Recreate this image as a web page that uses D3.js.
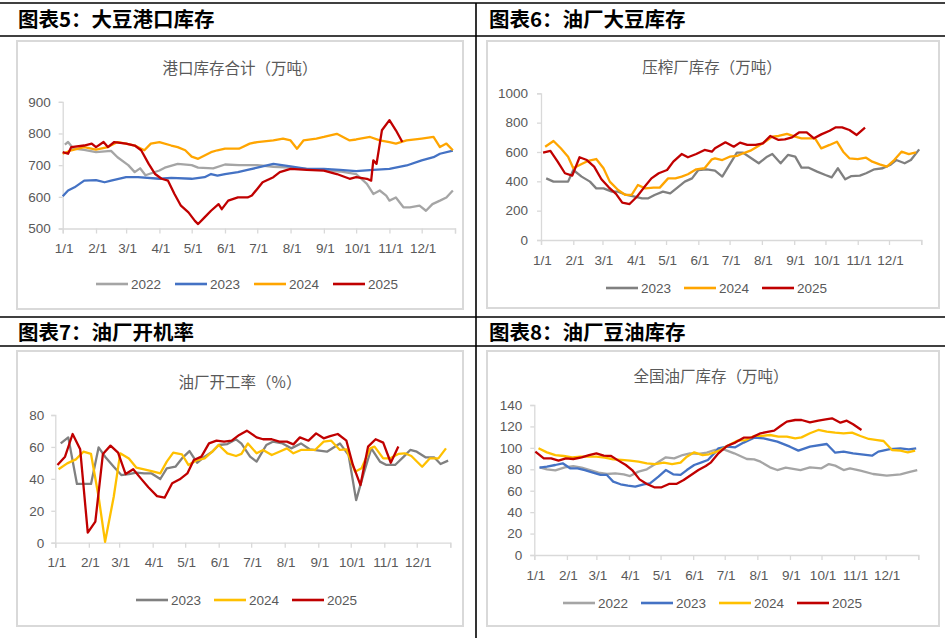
<!DOCTYPE html>
<html><head><meta charset="utf-8">
<script src="https://cdn.jsdelivr.net/npm/d3@7"></script>
<style>body{margin:0;background:#fff} svg{display:block}</style>
</head><body><svg id="c" width="945" height="638"></svg>
<script>
// ---------- shared tick data ----------
const monthLabels = ["1/1","2/1","3/1","4/1","5/1","6/1","7/1","8/1","9/1","10/1","11/1","12/1"];
const monthStarts = [0,31,59,90,120,151,181,212,243,273,304,334];
const yearEnd = 365;

// ---------- 图表5 大豆港口库存 (day of year, 万吨) ----------
const port2022 = [[2,765],[5,773],[10,752],[20,748],[31,741],[45,745],[51,725],[61,700],[67,678],[72,690],[77,668],[90,683],[95,692],[107,704],[120,700],[126,692],[140,690],[151,702],[164,700],[181,700],[196,695],[212,692],[227,688],[243,685],[258,680],[273,672],[283,641],[289,609],[295,620],[301,604],[304,588],[310,598],[317,567],[323,567],[332,572],[338,556],[344,577],[351,588],[357,598],[363,620]];
const port2023 = [[0,602],[5,620],[11,630],[20,651],[31,653],[39,646],[45,651],[59,662],[70,662],[90,657],[101,660],[120,657],[132,662],[138,672],[144,667],[151,672],[163,678],[172,685],[181,692],[196,704],[212,696],[227,688],[243,688],[258,685],[273,681],[289,685],[304,688],[320,699],[334,715],[345,725],[351,736],[363,746]];
const port2024 = [[0,736],[8,747],[20,757],[31,749],[42,757],[51,773],[59,768],[67,762],[76,747],[82,768],[90,773],[101,762],[107,757],[114,747],[120,727],[126,720],[138,741],[144,747],[151,752],[164,752],[174,768],[181,773],[196,778],[205,784],[212,778],[218,752],[224,778],[236,784],[243,789],[255,799],[267,778],[273,781],[286,789],[295,778],[304,773],[310,768],[320,778],[334,784],[345,789],[351,757],[357,768],[363,747]];
const port2025 = [[0,741],[5,736],[8,757],[20,762],[27,768],[31,757],[38,773],[42,757],[48,773],[59,768],[67,762],[73,747],[80,704],[86,672],[92,657],[98,651],[104,609],[110,572],[117,551],[123,524],[126,514],[132,535],[138,556],[145,577],[148,561],[154,588],[163,598],[172,598],[176,604],[181,625],[186,646],[196,662],[202,678],[212,688],[227,685],[243,683],[255,672],[267,657],[273,662],[283,657],[287,651],[289,715],[292,704],[297,810],[304,842],[310,810],[316,773]];
const portTicks = [500,600,700,800,900];

// ---------- 图表6 油厂大豆库存 ----------
const mill2023 = [[5,420],[12,398],[20,398],[26,398],[31,477],[39,432],[47,398],[53,352],[60,352],[68,330],[74,330],[82,307],[90,295],[97,284],[103,284],[109,307],[117,330],[124,318],[130,352],[138,398],[145,420],[151,477],[159,482],[167,473],[174,432],[188,595],[194,595],[209,523],[217,568],[222,586],[230,523],[237,580],[244,568],[250,493],[257,493],[265,466],[273,443],[279,427],[285,489],[292,414],[298,436],[306,439],[312,455],[320,482],[328,489],[335,511],[341,545],[349,523],[355,545],[363,618]];
const mill2024 = [[4,636],[12,675],[19,625],[26,568],[31,489],[39,518],[45,539],[53,552],[60,489],[66,398],[74,341],[81,307],[87,307],[93,375],[100,352],[108,357],[114,357],[122,420],[129,420],[135,432],[141,448],[149,482],[157,489],[164,550],[167,557],[174,545],[181,568],[188,573],[194,591],[201,609],[209,643],[215,670],[222,705],[228,709],[236,723],[244,705],[250,693],[257,693],[263,693],[269,625],[277,648],[284,670],[290,602],[296,557],[304,552],[312,561],[318,534],[325,516],[332,500],[339,545],[346,602],[353,586],[360,598]];
const mill2025 = [[2,595],[9,607],[16,534],[23,455],[30,439],[37,564],[44,545],[51,500],[58,414],[65,359],[72,314],[78,255],[85,245],[92,295],[99,359],[106,420],[113,455],[121,477],[127,534],[135,586],[141,564],[149,586],[157,614],[164,602],[167,625],[177,666],[185,636],[191,664],[198,648],[206,648],[213,659],[220,709],[228,682],[234,686],[241,700],[248,734],[255,734],[262,693],[269,720],[277,745],[283,768],[289,768],[296,750],[303,716],[311,766]];
const millTicks = [0,200,400,600,800,1000];

// ---------- 图表7 油厂开工率 (%) ----------
const rate2023 = [[5,62.2],[12,66],[20,36.8],[26,36.8],[33,36.8],[40,59.7],[46,53.9],[54,47.6],[61,42.4],[68,43],[75,43.9],[82,43.4],[89,43.4],[97,39.9],[103,46.6],[111,47.6],[117,52.8],[124,57.4],[131,50.1],[138,53.9],[145,57],[151,61.2],[159,61.8],[167,64.8],[172,62],[180,53.9],[186,50.8],[195,61.2],[201,63.3],[210,62.2],[218,59.1],[227,62.2],[235,58.5],[251,57],[263,62.2],[271,54.9],[278,26.7],[285,43.4],[292,59.1],[300,50.8],[306,48.7],[314,48.7],[322,53.9],[328,58.1],[334,57],[342,53.5],[350,53.5],[356,49.3],[363,51.4]];
const rate2024 = [[3,46],[11,49.7],[19,52.2],[26,57],[33,55.6],[40,28.8],[46,0.6],[54,28.8],[60,56],[68,52.8],[75,47],[82,46],[89,44.9],[97,43.4],[103,50.8],[109,56.4],[117,55.4],[123,48.7],[131,51.8],[138,52.8],[145,57],[151,61.2],[159,56],[167,54.3],[172,55.6],[178,62.2],[186,56],[192,58.1],[200,54.9],[207,57],[214,59.1],[220,56],[227,58.1],[240,58.1],[248,63.3],[255,63.9],[263,58.1],[269,58.5],[277,44.5],[283,46.6],[291,59.1],[295,60.2],[303,52.8],[309,52.8],[317,55.6],[323,56],[329,54.3],[339,47.6],[346,52.8],[354,52.8],[361,59.1]];
const rate2025 = [[2,48.7],[9,53.9],[16,68.1],[23,58.5],[30,6.3],[37,13.2],[44,55.6],[51,60.8],[58,56.4],[65,43],[72,46],[79,40.3],[86,34.7],[94,29.2],[101,28.2],[108,37.2],[115,39.7],[122,43.4],[128,51.8],[135,53.9],[142,62.2],[149,63.9],[156,63.3],[163,63.9],[170,67.5],[177,70.2],[186,66],[192,64.8],[200,64.8],[207,63.3],[214,63.3],[220,61.6],[226,66],[234,63.9],[241,68.5],[248,65.4],[254,66.8],[261,68.1],[269,63.9],[275,48.7],[282,36.1],[289,60.2],[296,64.8],[303,62.7],[310,50.1],[317,60.2]];
const rateTicks = [0,20,40,60,80];

// ---------- 图表8 油厂豆油库存 ----------
const oil2022 = [[5,81.8],[12,80],[20,79],[29,81.8],[37,83],[45,81.5],[53,79.3],[61,76.9],[69,75.6],[77,76.2],[85,75.3],[91,73.7],[99,77.8],[107,80],[115,84.9],[125,91.2],[133,90.2],[141,93.3],[148,94.9],[156,94.3],[164,95.5],[172,98.2],[180,98.6],[190,94.9],[202,89.6],[209,89.3],[215,87.1],[224,81.8],[231,79.3],[239,81.5],[253,79.3],[262,81.8],[273,80.9],[280,84.9],[286,83.4],[294,79.3],[300,80.9],[310,78.7],[322,75.6],[335,74.1],[348,75.3],[357,77.5],[364,79.3]];
const oil2023 = [[5,81.5],[12,82.5],[20,84],[27,85.6],[34,80.9],[41,80.9],[48,79.3],[55,77.2],[63,74.7],[69,74.7],[75,68.5],[82,66],[89,64.7],[96,63.8],[104,66],[110,66.9],[118,73.1],[125,79.3],[132,75.3],[139,74.7],[145,79.3],[152,84],[159,86.5],[165,88.7],[172,96],[175,99.6],[183,101.1],[191,100.5],[199,104.9],[209,109.5],[218,108.9],[231,105.8],[243,101.1],[251,97.4],[262,101.1],[278,103.6],[286,95.5],[294,96.5],[303,94.9],[321,92.7],[327,96.5],[338,98.9],[348,99.6],[356,98.6],[363,99.6]];
const oil2024 = [[4,99.6],[12,95.8],[20,93.3],[28,92.4],[36,91.2],[44,91.8],[52,91.8],[59,91.8],[67,90.9],[75,89.3],[83,88.7],[91,88.1],[99,87.1],[107,85.6],[115,84.9],[123,86.2],[131,84.9],[139,86.2],[145,91.8],[152,95.8],[160,93.3],[166,94],[172,96],[177,98],[185,102.7],[193,106.7],[201,107.3],[209,111.1],[216,111.1],[224,112],[232,110.5],[240,110.5],[248,108.9],[254,109.8],[262,113.6],[270,116.7],[278,115.1],[286,114.2],[294,113.6],[302,114.2],[310,111.1],[318,108.3],[326,107.3],[332,106.4],[340,98],[348,97.4],[355,95.8],[362,97.4]];
const oil2025 = [[1,96.5],[9,90.2],[16,90.2],[23,88.1],[30,90.2],[37,89.6],[45,91.2],[52,93.3],[59,94.9],[66,92.7],[73,92.4],[80,88.1],[87,84],[93,79.3],[100,70.6],[107,66.3],[114,63.2],[121,63.2],[128,66.3],[135,66.3],[142,70],[149,74.7],[156,79.3],[163,83.1],[168,86.5],[175,94.9],[183,101.7],[191,104.9],[199,109.5],[207,109.8],[215,113.6],[223,115.1],[228,116.1],[234,120.4],[240,124.5],[248,126],[254,126],[262,123.8],[270,125.4],[277,126.6],[283,127.6],[291,123.5],[297,125.4],[303,122],[311,116.7]];
const oilTicks = [0,20,40,60,80,100,120,140];

// ---------- layout ----------
const svg = d3.select("#c");
const FONT = "'Liberation Sans', Arial, sans-serif";
const CJK = "'Noto Sans CJK SC', sans-serif";
const AX = "#d9d9d9", TXT = "#595959";

// table frame lines
const frame = svg.append("g").attr("stroke","#000");
[[0,3,945,3],[0,36,945,36],[0,317,945,317],[0,346,945,346],[476,3,476,638]].forEach(l=>{
  frame.append("line").attr("x1",l[0]).attr("y1",l[1]).attr("x2",l[2]).attr("y2",l[3]).attr("stroke-width",1.6);
});
[["图表5：大豆港口库存",18,27],["图表6：油厂大豆库存",489,27],["图表7：油厂开机率",18,340],["图表8：油厂豆油库存",489,340]].forEach(t=>{
  svg.append("text").attr("x",t[1]).attr("y",t[2]).text(t[0])
    .attr("font-family",CJK).attr("font-weight","bold").attr("font-size",20.5).attr("fill","#000");
});

function panel(cfg){
  const g = svg.append("g");
  g.append("rect").attr("x",cfg.box[0]).attr("y",cfg.box[1]).attr("width",cfg.box[2]).attr("height",cfg.box[3])
    .attr("fill","#fff").attr("stroke",AX).attr("stroke-width",2);
  g.append("text").attr("x",cfg.titleX).attr("y",cfg.titleY).attr("text-anchor","middle").attr("dominant-baseline","central")
    .attr("font-family",CJK).attr("font-size",15.5).attr("fill",TXT).text(cfg.title);
  const x = d3.scaleLinear().domain([0,yearEnd]).range(cfg.xr);
  const y = d3.scaleLinear().domain(cfg.yd).range(cfg.yr);
  const ya = g.append("g").attr("transform",`translate(${cfg.xr[0]},0)`)
    .call(d3.axisLeft(y).tickValues(cfg.yticks).tickFormat(d3.format("d")).tickSize(4).tickPadding(cfg.ypad));
  const xa = g.append("g").attr("transform",`translate(0,${cfg.yr[0]})`)
    .call(d3.axisBottom(x).tickValues(monthStarts.concat([yearEnd])).tickSize(5)
      .tickFormat((d,i)=> i<monthLabels.length ? monthLabels[i] : "").tickPadding(cfg.xpad));
  [ya,xa].forEach(a=>{
    a.select(".domain").attr("stroke",AX).attr("stroke-width",1.3);
    a.selectAll(".tick line").attr("stroke",AX).attr("stroke-width",1.3);
    a.selectAll("text").attr("font-family",FONT).attr("font-size",13.5).attr("fill",TXT);
  });
  xa.selectAll("text").attr("dx",1);
  const line = d3.line().x(d=>x(d[0])).y(d=>y(d[1]));
  cfg.series.forEach(s=>{
    g.append("path").datum(s.data).attr("d",line).attr("fill","none")
      .attr("stroke",s.color).attr("stroke-width",2.3).attr("stroke-linejoin","round");
  });
  cfg.series.slice().sort((a,b)=>a.order-b.order).forEach((s,i)=>{
    const lx = cfg.legX + i*cfg.legStep;
    g.append("line").attr("x1",lx).attr("x2",lx+32).attr("y1",cfg.legY).attr("y2",cfg.legY)
      .attr("stroke",s.color).attr("stroke-width",2.6);
    g.append("text").attr("x",lx+35).attr("y",cfg.legY).attr("dominant-baseline","central")
      .attr("font-family",FONT).attr("font-size",13.5).attr("fill",TXT).text(s.name);
  });
}

panel({box:[17,41,446,268], title:"港口库存合计（万吨）", titleX:240, titleY:67,
  xr:[62.7,455], yd:[500,900], yr:[228.5,101.8], yticks:portTicks, ypad:8, xpad:10,
  legX:96, legStep:79, legY:284,
  series:[{name:"2022",data:port2022,color:"#a5a5a5",order:0},{name:"2023",data:port2023,color:"#4472c4",order:1},
          {name:"2024",data:port2024,color:"#ffa500",order:2},{name:"2025",data:port2025,color:"#c00000",order:3}]});

panel({box:[487,41,452,267], title:"压榨厂库存（万吨）", titleX:712, titleY:66,
  xr:[541,921.3], yd:[0,1000], yr:[240,93.3], yticks:millTicks, ypad:9, xpad:10,
  legX:606, legStep:78, legY:288,
  series:[{name:"2023",data:mill2023,color:"#808080",order:0},{name:"2024",data:mill2024,color:"#ffa500",order:1},
          {name:"2025",data:mill2025,color:"#c00000",order:2}]});

panel({box:[17,351,446,275], title:"油厂开工率（%）", titleX:240, titleY:381,
  xr:[55.3,450.3], yd:[0,80], yr:[542.7,415], yticks:rateTicks, ypad:7, xpad:10,
  legX:136, legStep:78, legY:600,
  series:[{name:"2023",data:rate2023,color:"#808080",order:0},{name:"2024",data:rate2024,color:"#ffc000",order:1},
          {name:"2025",data:rate2025,color:"#c00000",order:2}]});

panel({box:[487,351,452,275], title:"全国油厂库存（万吨）", titleX:711, titleY:375,
  xr:[534.3,918.3], yd:[0,140], yr:[555,405], yticks:oilTicks, ypad:8, xpad:10,
  legX:563, legStep:78, legY:603,
  series:[{name:"2022",data:oil2022,color:"#a5a5a5",order:0},{name:"2023",data:oil2023,color:"#4472c4",order:1},
          {name:"2024",data:oil2024,color:"#ffc000",order:2},{name:"2025",data:oil2025,color:"#c00000",order:3}]});
</script></body></html>
